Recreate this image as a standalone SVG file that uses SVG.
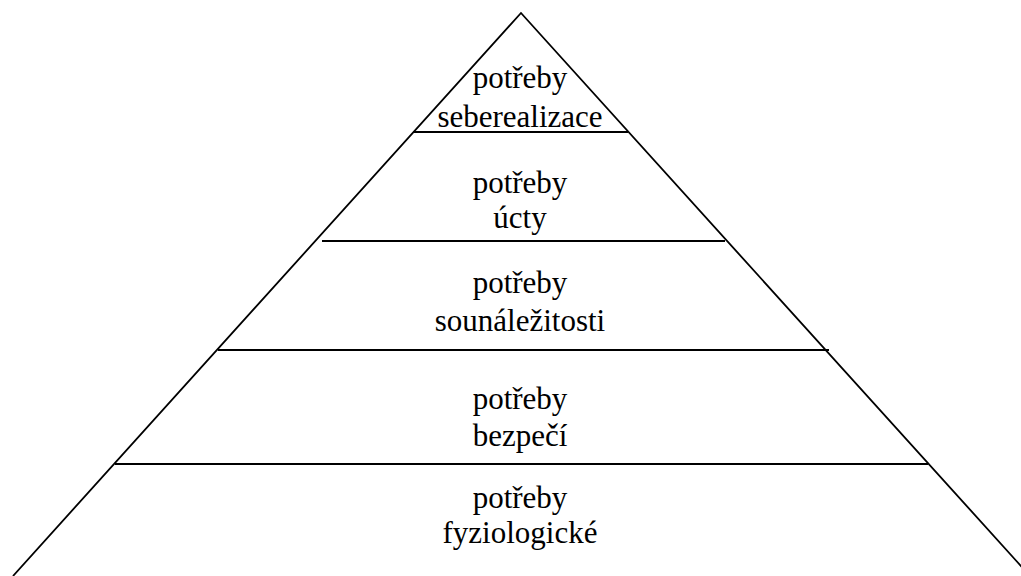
<svg xmlns="http://www.w3.org/2000/svg" width="1021" height="576" viewBox="0 0 1021 576">
<style>
.t{font-family:"Liberation Serif","Times New Roman",serif;font-size:31px;fill:#000;text-anchor:middle}
.l{stroke:#000;stroke-width:1.8;fill:none}
</style>
<rect width="1021" height="576" fill="#fff"/>
<g id="connectors">
<path class="l" d="M13,576 L521,13 L1030,576"/>
<line class="l" x1="413" y1="132" x2="628" y2="132"/>
<line class="l" x1="322" y1="241" x2="725" y2="241"/>
<line class="l" x1="218" y1="350" x2="829" y2="350"/>
<line class="l" x1="115" y1="464" x2="928" y2="464"/>
</g>
<g id="level5"><text class="t" x="520" y="88">potřeby</text><text class="t" x="520" y="127">seberealizace</text></g>
<g id="level4"><text class="t" x="520" y="193">potřeby</text><text class="t" x="520" y="228">úcty</text></g>
<g id="level3"><text class="t" x="520" y="293">potřeby</text><text class="t" x="520" y="331">sounáležitosti</text></g>
<g id="level2"><text class="t" x="520" y="409">potřeby</text><text class="t" x="520" y="446">bezpečí</text></g>
<g id="level1"><text class="t" x="520" y="508">potřeby</text><text class="t" x="520" y="543">fyziologické</text></g>
</svg>
